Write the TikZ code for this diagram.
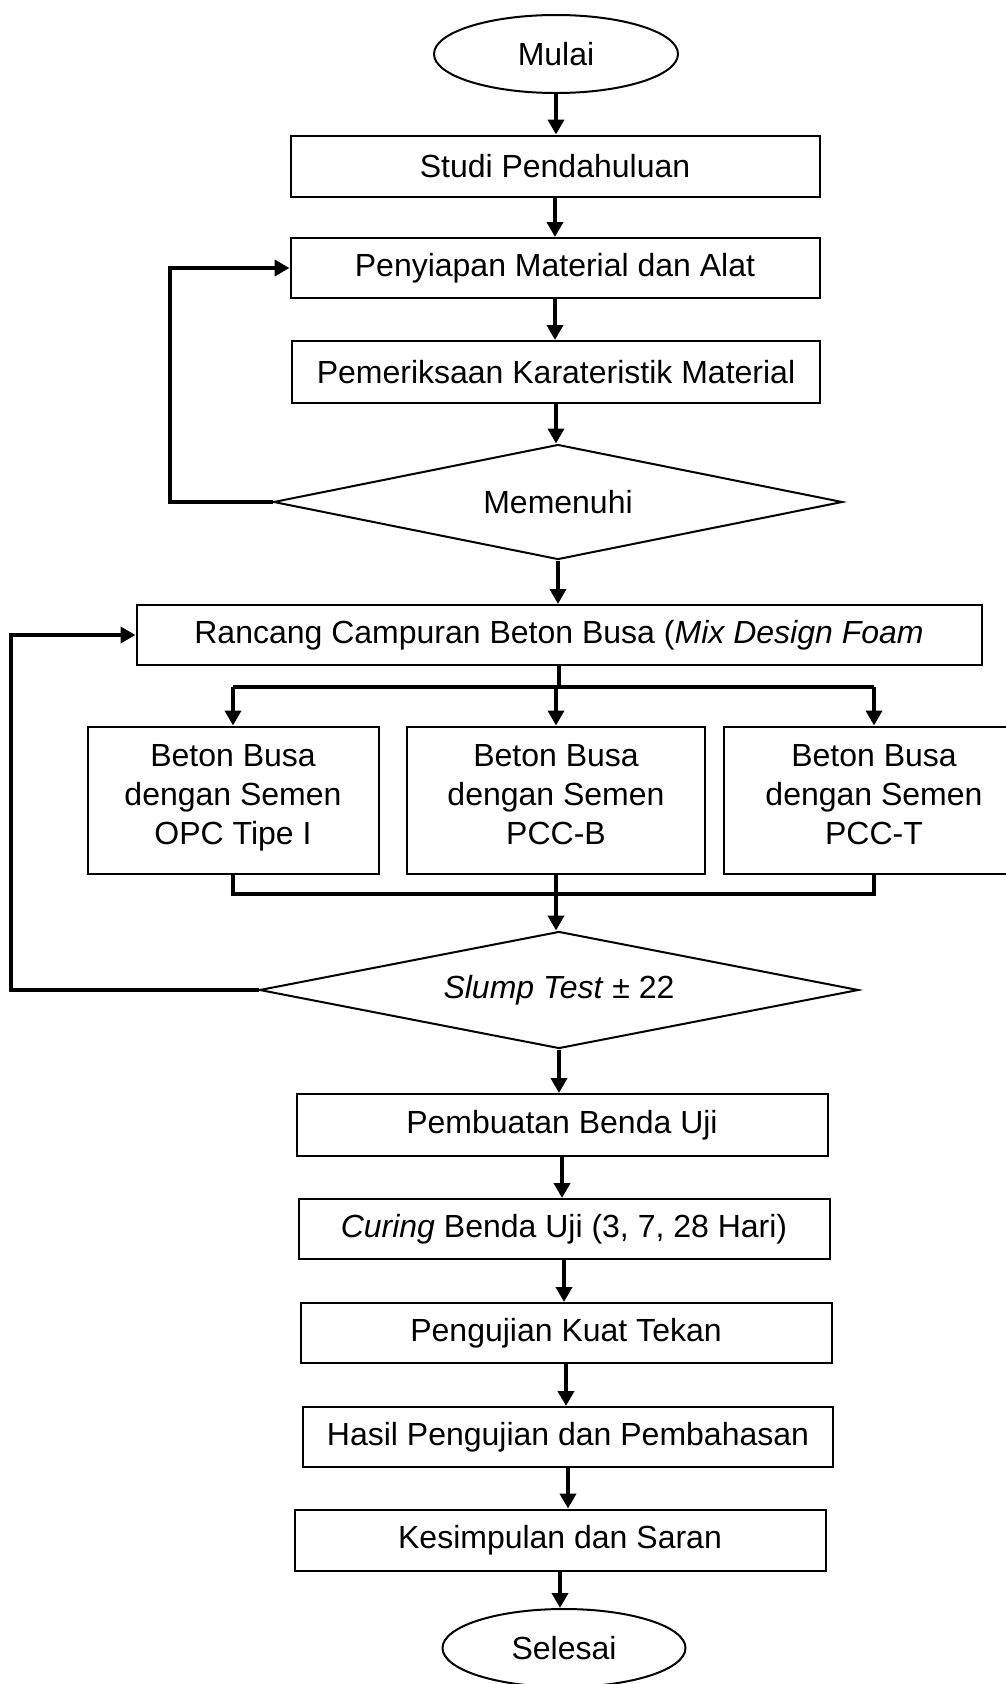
\documentclass[tikz,border=0pt]{standalone}
\usepackage{fontspec}
\setmainfont{Liberation Sans}
\usetikzlibrary{shapes.geometric,arrows.meta}

\begin{document}
\begin{tikzpicture}[
  x=1pt,
  y=-1pt,
  font=\fontsize{32}{39}\selectfont,
  flow box/.style={
    draw,
    rectangle,
    line width=2pt,
    inner sep=0pt,
    minimum width=531pt,
    minimum height=61pt
  },
  flow end/.style={
    draw,
    ellipse,
    line width=2pt,
    inner sep=0pt,
    minimum width=244pt,
    minimum height=78pt
  },
  flow check/.style={
    draw,
    diamond,
    aspect=5,
    line width=2pt,
    inner sep=0pt
  },
  flow cement/.style={
    flow box,
    align=center,
    minimum height=147pt
  },
  flow line/.style={
    line width=4pt
  },
  flow arrow/.style={
    flow line,
    -{Triangle[length=15pt,width=16pt]}
  },
]
\useasboundingbox[fill=white] (0,0) rectangle (1005,1684);

\node[flow end] (mulai) at (556,54) {Mulai};
\node[flow box,minimum width=529pt] (studi) at (555,166) {Studi Pendahuluan};
\node[flow box,minimum width=529pt,minimum height=60pt] (siap) at (555,268) {Penyiapan Material dan Alat};
\node[flow box,minimum width=528pt,minimum height=62pt] (periksa) at (556,372) {Pemeriksaan Karateristik Material};
\node[flow check,minimum width=569pt,minimum height=115pt] (memenuhi) at (558,502) {Memenuhi};
\node[flow box,minimum width=845pt,minimum height=60pt] (rancang) at (559,635) {Rancang Campuran Beton Busa (\textit{Mix Design Foam}};
\node[flow cement,minimum width=291pt] (opc) at (233,800) {Beton Busa\\dengan Semen\\OPC Tipe I\strut};
\node[flow cement,minimum width=298pt] (pccb) at (556,800) {Beton Busa\\dengan Semen\\PCC-B\strut};
\node[flow cement,minimum width=300pt] (pcct) at (874,800) {Beton Busa\\dengan Semen\\PCC-T\strut};
\node[flow check,minimum width=599pt,minimum height=117pt] (slump) at (559,990) {\textit{Slump Test} ± 22};
\node[flow box,minimum height=62pt] (buat) at (562,1125) {Pembuatan Benda Uji};
\node[flow box,minimum height=60pt] (curing) at (564,1229) {\textit{Curing} Benda Uji (3, 7, 28 Hari)};
\node[flow box,minimum height=60pt] (uji) at (566,1333) {Pengujian Kuat Tekan};
\node[flow box,minimum width=530pt,minimum height=60pt] (hasil) at (568,1437) {Hasil Pengujian dan Pembahasan};
\node[flow box] (simpul) at (560,1540) {Kesimpulan dan Saran};
\node[flow end,minimum width=243pt] (selesai) at (564,1648) {Selesai};

\foreach \a/\b in {mulai/studi,studi/siap,siap/periksa,periksa/memenuhi,memenuhi/rancang,
  slump/buat,buat/curing,curing/uji,uji/hasil,hasil/simpul,simpul/selesai}
  \draw[flow arrow] (\a.south) -- (\a.south |- \b.north);

\draw[flow arrow] (memenuhi.west) -- ++(-103,0) |- (siap.west);
\draw[flow arrow] (slump.west) -- ++(-248,0) |- (rancang.west);

\coordinate (split) at (559,687);
\coordinate (join) at (556,894);
\draw[flow line] (rancang.south) -- (split);
\draw[flow line] (split -| opc) -- (split -| pcct);
\foreach \b in {opc,pccb,pcct}
  \draw[flow arrow] (split -| \b) -- (\b.north);
\draw[flow line] (opc.south) -- (opc.south |- join) -- (pcct.south |- join) -- (pcct.south);
\draw[flow arrow] (pccb.south) -- (pccb.south |- slump.north);
\end{tikzpicture}
\end{document}
